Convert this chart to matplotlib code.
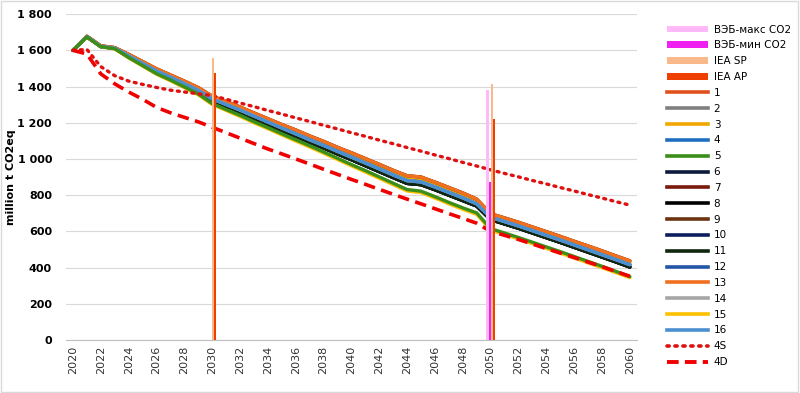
import matplotlib
matplotlib.use('Agg')
import matplotlib.pyplot as plt
from matplotlib.patches import Patch, Rectangle
from matplotlib.lines import Line2D
from matplotlib.ticker import FuncFormatter, MultipleLocator
import numpy as np

# ==========================================
# DATA
# ==========================================
years = list(range(2020, 2061))

# scenario trajectories (several scenarios share nearly the same path)
path_a = [1600, 1678, 1625, 1615, 1578, 1538, 1498, 1464, 1430, 1394, 1347, 1317, 1287, 1254, 1222, 1190, 1160, 1127, 1097, 1064,
          1034, 1002, 970, 937, 907, 900, 872, 842, 812, 778, 697, 674, 650, 624, 598, 572, 545, 519, 492, 464, 437]
path_b = [1600, 1677, 1624, 1613, 1574, 1533, 1492, 1458, 1423, 1386, 1340, 1309, 1278, 1245, 1213, 1180, 1149, 1116, 1085, 1052,
          1021, 989, 957, 924, 893, 886, 858, 828, 798, 765, 688, 664, 640, 614, 588, 562, 535, 509, 482, 455, 428]
path_c = [1600, 1676, 1622, 1612, 1570, 1528, 1486, 1452, 1416, 1379, 1332, 1301, 1270, 1237, 1204, 1171, 1139, 1106, 1075, 1042,
          1010, 978, 945, 912, 880, 873, 845, 815, 785, 752, 678, 654, 630, 604, 578, 552, 525, 498, 471, 444, 416]
path_d = [1600, 1675, 1621, 1611, 1566, 1523, 1480, 1446, 1409, 1372, 1322, 1290, 1259, 1225, 1192, 1158, 1126, 1093, 1061, 1028,
          996, 963, 930, 897, 865, 858, 830, 800, 770, 740, 665, 641, 617, 591, 565, 539, 512, 485, 458, 431, 403]
path_e = [1600, 1674, 1620, 1609, 1560, 1516, 1471, 1436, 1398, 1359, 1306, 1273, 1241, 1206, 1173, 1139, 1106, 1073, 1039, 1004,
          969, 936, 901, 866, 831, 822, 792, 760, 730, 702, 615, 591, 566, 540, 514, 488, 461, 434, 407, 379, 350]
path_f = [1600, 1674, 1620, 1608, 1558, 1513, 1468, 1432, 1394, 1354, 1301, 1268, 1235, 1200, 1167, 1133, 1099, 1066, 1032, 997,
          962, 928, 893, 858, 823, 814, 784, 752, 722, 694, 607, 583, 558, 532, 506, 480, 453, 426, 399, 372, 344]

s4S = [1600, 1605, 1510, 1460, 1430, 1412, 1395, 1380, 1370, 1360, 1350, 1330, 1309, 1289, 1268, 1248, 1227, 1207, 1186, 1166,
       1145, 1125, 1104, 1084, 1063, 1043, 1022, 1002, 981, 961, 940, 920, 901, 881, 862, 842, 823, 803, 784, 764, 745]
s4D = [1600, 1580, 1470, 1415, 1370, 1330, 1285, 1255, 1230, 1205, 1175, 1145, 1115, 1085, 1055, 1028, 1000, 972, 943, 915,
       887, 860, 832, 805, 778, 752, 725, 698, 672, 645, 600, 578, 555, 530, 505, 480, 455, 430, 405, 378, 352]

scenario_names = [str(i) for i in range(1, 17)]
scenario_paths = [path_a, path_c, path_b, path_c, path_e, path_d, path_d, path_d,
                  path_a, path_d, path_d, path_c, path_a, path_c, path_f, path_c]
scenario_colors = ['#E0501E', '#808080', '#F0A800', '#1F6FC0', '#3A8E1A', '#0D1A3C', '#7A1A0A', '#000000',
                   '#6B3410', '#0A1F5C', '#10260F', '#2456A8', '#F07020', '#A6A6A6', '#FFC000', '#4A90D0']

# bar series (only 2030 and 2050 have values)
bar_years = [2030, 2050]
veb_max = [0, 1380]
veb_min = [0, 870]
iea_sp = [1560, 1415]
iea_ap = [1475, 1220]

# ==========================================
# PLOT
# ==========================================
plt.rcParams['font.family'] = ['DejaVu Sans']
fig = plt.figure(figsize=(8, 3.93), dpi=100)
ax = fig.add_axes([0.0825, 0.135, 0.7135, 0.829])

for vals, col, name in zip(scenario_paths, scenario_colors, scenario_names):
    z = 3.05 if name == '5' else 3  # green sits over the yellow one
    ax.plot(years, vals, color=col, linewidth=2.4, label=name, zorder=z, solid_capstyle='round')

ax.plot(years, s4S, color='#E01010', linewidth=2.4, linestyle=(0, (0.6, 1.6)), dash_capstyle='round', label='4S', zorder=4)
ax.plot(years, s4D, color='#F00000', linewidth=2.6, linestyle=(0, (3.2, 1.8)), label='4D', zorder=4)

bw = 0.15
bx = np.array(bar_years, dtype=float)
bar_series = [(veb_max, '#FFB8F8', 'ВЭБ-макс CO2', -1.5),
              (veb_min, '#F020F0', 'ВЭБ-мин CO2', -0.5),
              (iea_sp, '#F9B98A', 'IEA SP', 0.5),
              (iea_ap, '#F04000', 'IEA AP', 1.5)]
for vals, col, name, off in bar_series:
    ax.bar(bx + off * bw, vals, width=bw, color=col, zorder=5, linewidth=0)

ax.set_xlim(2019.5, 2060.5)
ax.set_ylim(0, 1800)
ax.yaxis.set_major_locator(MultipleLocator(200))
ax.yaxis.set_major_formatter(FuncFormatter(lambda v, p: f'{int(v):,}'.replace(',', ' ')))
ax.set_xticks(list(range(2020, 2061, 2)))
ax.tick_params(axis='x', labelrotation=90, labelsize=8, length=0, pad=4, colors='#333333')
ax.tick_params(axis='y', labelsize=8, length=0, pad=10)
for t in ax.get_yticklabels():
    t.set_fontweight('bold')
ax.grid(axis='y', color='#D9D9D9', linewidth=0.8, zorder=0)
ax.set_axisbelow(True)
for side in ['top', 'right', 'left']:
    ax.spines[side].set_visible(False)
ax.spines['bottom'].set_color('#BFBFBF')
ax.set_ylabel('million t CO2eq', fontsize=8, fontweight='bold')
ax.yaxis.set_label_coords(-0.087, 0.5)

# legend
handles = [Patch(facecolor=c, edgecolor='none', label=n) for _, c, n, _ in bar_series]
handles += [Line2D([0], [0], color=c, linewidth=2.6, label=n) for c, n in zip(scenario_colors, scenario_names)]
handles += [Line2D([0], [0], color='#E01010', linewidth=2.6, linestyle=(0, (0.6, 1.6)), dash_capstyle='round', label='4S'),
            Line2D([0], [0], color='#F00000', linewidth=2.8, linestyle=(0, (3.0, 1.6)), label='4D')]
leg = fig.legend(handles=handles, loc='upper left', bbox_to_anchor=(0.829, 0.948), frameon=False,
                 fontsize=7.5, handlelength=3.9, handleheight=0.6, labelspacing=0.56, handletextpad=0.55,
                 borderaxespad=0)

fig.patches.append(Rectangle((0.001, 0.002), 0.996, 0.996, transform=fig.transFigure,
                             fill=False, edgecolor='#D9D9D9', linewidth=1))

fig.savefig('out.png', dpi=100)
